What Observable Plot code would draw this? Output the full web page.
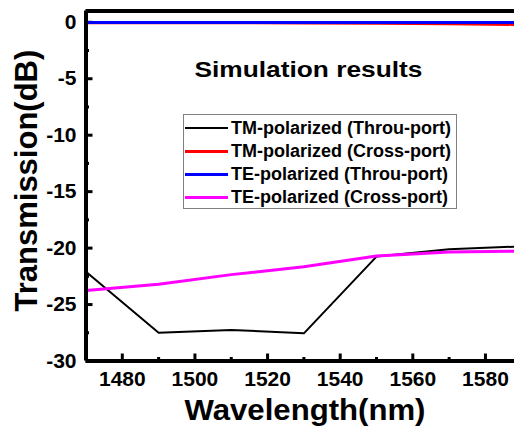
<!DOCTYPE html>
<html>
<head>
<meta charset="utf-8">
<script src="https://cdn.jsdelivr.net/npm/d3@7"></script>
<script src="https://cdn.jsdelivr.net/npm/@observablehq/plot@0.6"></script>
<style>
html, body { margin: 0; padding: 0; background: #fff; overflow: hidden; }
#wrap { position: relative; width: 514px; height: 426px; }
#legend { position: absolute; left: 183px; top: 114px; width: 274px; height: 95px; box-sizing: border-box;
  border: 1px solid #808080; background: #fff; font: bold 18px "Liberation Sans", Arial, sans-serif; color: #000; }
#legend .row { position: absolute; left: 0; height: 23px; display: flex; align-items: center; white-space: nowrap; }
#legend .sw { display: inline-block; width: 43px; margin-left: 1px; margin-right: 3px; }
</style>
</head>
<body>
<div id="wrap"><div id="chart"></div><div id="legend"></div></div>
<script>
// ---- data ----
const wavelength = [1470, 1490, 1510, 1530, 1550, 1570, 1590];
const tmThrou  = [-22.1, -27.5, -27.25, -27.55, -20.75, -20.1, -19.85];
const tmCross  = [-0.07, -0.07, -0.07, -0.08, -0.10, -0.15, -0.22];
const teThrou  = [-0.01, -0.01, -0.01, -0.01, -0.01, -0.01, -0.01];
const teCross  = [-23.75, -23.2, -22.35, -21.65, -20.7, -20.35, -20.26];
const seriesNames  = ["TM-polarized (Throu-port)", "TM-polarized (Cross-port)", "TE-polarized (Throu-port)", "TE-polarized (Cross-port)"];
const seriesColors = ["#000000", "#ff0000", "#0000ff", "#ff00ff"];
const seriesWidths = [2, 2.5, 3, 3];
const xMajor = [1480, 1500, 1520, 1540, 1560, 1580];
const xMinor = [1490, 1510, 1530, 1550, 1570];
const yMajor = [-30, -25, -20, -15, -10, -5, 0];
const yMinor = [-27.5, -22.5, -17.5, -12.5, -7.5, -2.5];
const titleText = "Simulation results";
const xTitle = "Wavelength(nm)";
const yTitle = "Transmission(dB)";

const seriesValues = [tmThrou, tmCross, teThrou, teCross];
const rows = seriesValues.map(vals => wavelength.map((w, i) => ({w, v: vals[i]})));

const font = "'Liberation Sans', Arial, sans-serif";

const chart = Plot.plot({
  width: 514,
  height: 426,
  marginLeft: 85.5,
  marginRight: 0,
  marginTop: 10.5,
  marginBottom: 65.5,
  style: {fontFamily: font, fontWeight: "bold", background: "#fff", color: "#000"},
  x: {domain: [1470, 1588], label: null},
  y: {domain: [-30, 1], label: null},
  marks: [
    Plot.axisX(xMajor, {tickSize: -7, tickPadding: 17.2, strokeWidth: 3, fontSize: 21, tickFormat: d => String(d), label: null}),
    Plot.axisX(xMinor, {tickSize: -3.5, tickPadding: 0, strokeWidth: 3, tickFormat: () => "", label: null}),
    Plot.axisY(yMajor, {tickSize: -7, tickPadding: 16.5, strokeWidth: 3, fontSize: 21, tickFormat: d => String(d), label: null}),
    Plot.axisY(yMinor, {tickSize: -3.5, tickPadding: 0, strokeWidth: 3, tickFormat: () => "", label: null}),
    ...rows.map((r, k) => Plot.line(r, {x: "w", y: "v", stroke: seriesColors[k], strokeWidth: seriesWidths[k], clip: true})),
    Plot.ruleX([1470], {stroke: "#000", strokeWidth: 4}),
    Plot.ruleY([-30, 1], {stroke: "#000", strokeWidth: 4}),
    Plot.text([titleText], {text: d => d, frameAnchor: "top", dx: 8.25, dy: 66.2, lineAnchor: "bottom", fontSize: 22, fontWeight: "bold", fill: "#000"}),
    Plot.text([xTitle], {text: d => d, frameAnchor: "bottom", dx: 4.75, dy: 58.8, lineAnchor: "bottom", fontSize: 30, fontWeight: "bold", fill: "#000"}),
    Plot.text([yTitle], {text: d => d, frameAnchor: "left", rotate: -90, dx: -59, dy: 125.5, textAnchor: "start", lineAnchor: "middle", fontSize: 31, fontWeight: "bold", fill: "#000"})
  ]
});
document.getElementById("chart").appendChild(chart);

// stretch the horizontal titles to match the reference's text extents
const lengths = [228, 241];
d3.select(chart).selectAll('g[aria-label="text"] text').each(function(d, i) {
  if (lengths[i]) { this.setAttribute("textLength", lengths[i]); this.setAttribute("lengthAdjust", "spacingAndGlyphs"); }
});

// legend
const legend = d3.select("#legend");
const rowTops = [1.5, 25, 48, 70.5];
seriesNames.forEach((name, k) => {
  const row = legend.append("div").attr("class", "row").style("top", rowTops[k] + "px");
  row.append("span").attr("class", "sw").style("height", (k === 0 ? 2 : 3) + "px").style("background", seriesColors[k]);
  row.append("span").text(name);
});
</script>
</body>
</html>
